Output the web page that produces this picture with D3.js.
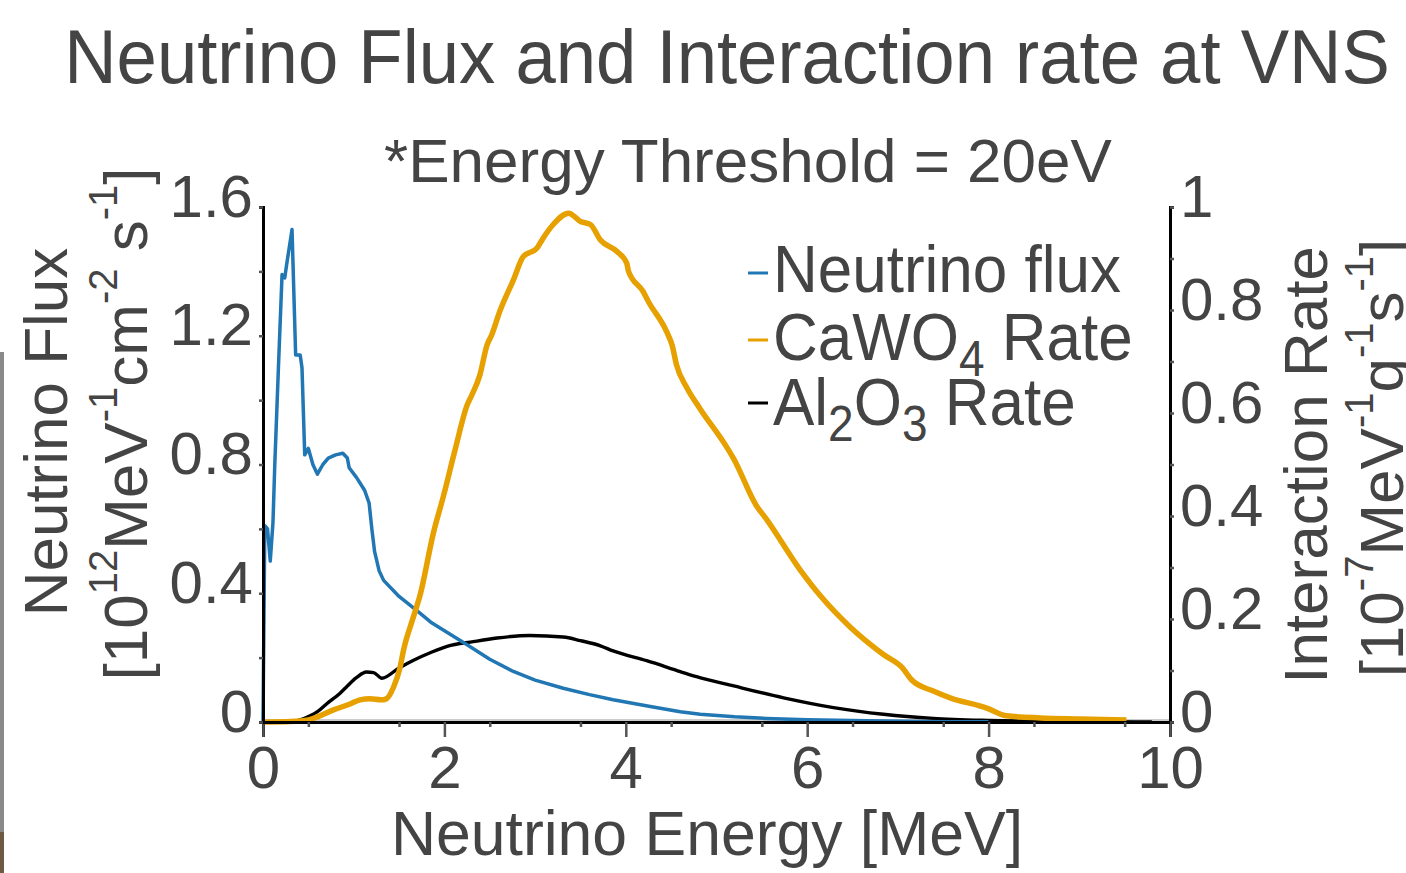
<!DOCTYPE html>
<html>
<head>
<meta charset="utf-8">
<script src="https://cdn.jsdelivr.net/npm/d3@7"></script>
<style>
    body { margin: 0; background: #fff; }
    svg { display: block; }
    text { font-family: "Liberation Sans", Arial, Helvetica, sans-serif; fill: #444; }
</style>
</head>
<body>
<svg width="1406" height="873"></svg>
<script>
// Neutrino flux [1e12 MeV^-1 cm^-2 s^-1] vs energy [MeV]
const fluxE = [0, 0.02, 0.05, 0.08, 0.11, 0.13, 0.17, 0.21, 0.24, 0.26, 0.32, 0.36, 0.41, 0.43, 0.46, 0.50, 0.55, 0.60, 0.66, 0.72, 0.80, 0.88, 0.93, 0.95, 1.03, 1.12, 1.17, 1.20, 1.23, 1.28, 1.33, 1.50, 1.70, 1.85, 2.05, 2.25, 2.50, 2.76, 3.00, 3.31, 3.60, 3.86, 4.27, 4.60, 4.82, 5.20, 5.55, 6.00, 6.66, 7.50, 8.00];
const fluxV = [0, 0.61, 0.60, 0.50, 0.62, 0.80, 1.10, 1.39, 1.38, 1.42, 1.53, 1.14, 1.14, 1.10, 0.83, 0.85, 0.80, 0.77, 0.80, 0.82, 0.83, 0.835, 0.82, 0.79, 0.76, 0.72, 0.68, 0.60, 0.53, 0.47, 0.44, 0.39, 0.345, 0.31, 0.275, 0.24, 0.195, 0.157, 0.13, 0.105, 0.085, 0.069, 0.048, 0.032, 0.024, 0.016, 0.011, 0.007, 0.004, 0.001, 0.0005];

// CaWO4 interaction rate [1e-7 MeV^-1 g^-1 s^-1]
const cawoE = [0, 0.3, 0.5, 0.6, 0.77, 0.96, 1.07, 1.18, 1.30, 1.36, 1.44, 1.51, 1.55, 1.66, 1.73, 1.88, 1.99, 2.12, 2.25, 2.30, 2.39, 2.47, 2.52, 2.61, 2.76, 2.87, 3.02, 3.09, 3.20, 3.37, 3.50, 3.61, 3.72, 3.90, 4.01, 4.03, 4.19, 4.25, 4.45, 4.51, 4.56, 4.67, 4.82, 5.09, 5.19, 5.44, 5.55, 5.92, 6.15, 6.47, 6.84, 7.05, 7.15, 7.39, 7.59, 7.91, 7.98, 8.20, 8.57, 9.00, 9.52];
const cawoV = [0, 0.001, 0.004, 0.01, 0.023, 0.035, 0.043, 0.045, 0.043, 0.045, 0.068, 0.105, 0.14, 0.205, 0.245, 0.368, 0.439, 0.530, 0.615, 0.634, 0.673, 0.732, 0.751, 0.797, 0.858, 0.904, 0.920, 0.940, 0.966, 0.988, 0.972, 0.966, 0.936, 0.914, 0.891, 0.875, 0.836, 0.816, 0.758, 0.732, 0.693, 0.650, 0.608, 0.540, 0.511, 0.420, 0.394, 0.296, 0.244, 0.185, 0.131, 0.105, 0.082, 0.060, 0.046, 0.031, 0.027, 0.012, 0.008, 0.006, 0.004];

// Al2O3 interaction rate
const alE = [0, 0.3, 0.52, 0.6, 0.70, 0.85, 0.92, 1.03, 1.14, 1.22, 1.31, 1.50, 1.66, 1.85, 2.03, 2.32, 2.58, 2.94, 3.31, 3.50, 3.72, 3.86, 4.23, 4.60, 4.78, 5.19, 5.74, 6.29, 6.84, 7.39, 8.00, 8.60, 9.80];
const alV = [0, 0.0005, 0.012, 0.02, 0.035, 0.056, 0.068, 0.086, 0.097, 0.096, 0.085, 0.105, 0.12, 0.135, 0.147, 0.156, 0.163, 0.168, 0.165, 0.158, 0.148, 0.138, 0.119, 0.098, 0.088, 0.070, 0.047, 0.028, 0.015, 0.007, 0.003, 0.001, 0];

const xTicks = [0, 2, 4, 6, 8, 10];
const yLeftTicks = [0, 0.4, 0.8, 1.2, 1.6];
const yRightTicks = [0, 0.2, 0.4, 0.6, 0.8, 1];

function drawChart() {
    const svg = d3.select('svg');
    const plot = { left: 263, right: 1170, top: 207, bottom: 722 };
    const blue = '#2176b4', orange = '#e6a000';

    const xScale = d3.scaleLinear().domain([0, 10]).range([plot.left, plot.right]);
    const yLeft = d3.scaleLinear().domain([0, 1.6]).range([plot.bottom, plot.top]);
    const yRight = d3.scaleLinear().domain([0, 1]).range([plot.bottom, plot.top]);

    // faint zero line
    svg.append('line')
        .attr('x1', plot.left).attr('x2', plot.right)
        .attr('y1', plot.bottom - 2).attr('y2', plot.bottom - 2)
        .attr('stroke', '#bbb').attr('stroke-width', 1.5);

    // Curves
    const flux = fluxE.map((e, i) => [e, fluxV[i]]);
    const cawo = cawoE.map((e, i) => [e, cawoV[i]]);
    const al = alE.map((e, i) => [e, alV[i]]);

    svg.append('path')
        .datum(al)
        .attr('fill', 'none').attr('stroke', '#000').attr('stroke-width', 3.4)
        .attr('stroke-linejoin', 'round')
        .attr('d', d3.line().x(d => xScale(d[0])).y(d => yRight(d[1])).curve(d3.curveMonotoneX));
    svg.append('path')
        .datum(flux)
        .attr('fill', 'none').attr('stroke', blue).attr('stroke-width', 3.5)
        .attr('stroke-linejoin', 'round')
        .attr('d', d3.line().x(d => xScale(d[0])).y(d => yLeft(d[1])));
    svg.append('path')
        .datum(cawo)
        .attr('fill', 'none').attr('stroke', orange).attr('stroke-width', 5.5)
        .attr('stroke-linejoin', 'round')
        .attr('d', d3.line().x(d => xScale(d[0])).y(d => yRight(d[1])).curve(d3.curveMonotoneX));

    // Axes
    const tickFont = 60;
    const xAxis = d3.axisBottom(xScale).tickValues(xTicks).tickSize(15).tickPadding(8).tickFormat(d3.format('d'));
    const gx = svg.append('g').attr('transform', `translate(0, ${plot.bottom})`).call(xAxis);
    const xMinor = d3.axisBottom(xScale).tickValues(d3.range(0.5, 10, 1)).tickSize(5).tickFormat('');
    svg.append('g').attr('transform', `translate(0, ${plot.bottom})`).call(xMinor)
        .call(g => g.select('.domain').remove());

    const yAxisL = d3.axisLeft(yLeft).tickValues(yLeftTicks).tickSize(4).tickPadding(6)
        .tickFormat(d => d === 0 ? '0' : d3.format('.1f')(d));
    const gyl = svg.append('g').attr('transform', `translate(${plot.left}, 0)`).call(yAxisL);
    const yMinorL = d3.axisLeft(yLeft).tickValues([0.2, 0.6, 1.0, 1.4]).tickSize(4).tickFormat('');
    svg.append('g').attr('transform', `translate(${plot.left}, 0)`).call(yMinorL)
        .call(g => g.select('.domain').remove());

    const yAxisR = d3.axisRight(yRight).tickValues(yRightTicks).tickSize(4).tickPadding(6)
        .tickFormat(d => d === 0 || d === 1 ? String(d) : d3.format('.1f')(d));
    const gyr = svg.append('g').attr('transform', `translate(${plot.right}, 0)`).call(yAxisR);
    const yMinorR = d3.axisRight(yRight).tickValues([0.1, 0.3, 0.5, 0.7, 0.9]).tickSize(4).tickFormat('');
    svg.append('g').attr('transform', `translate(${plot.right}, 0)`).call(yMinorR)
        .call(g => g.select('.domain').remove());

    svg.selectAll('.domain').attr('stroke', '#000').attr('stroke-width', 3);
    svg.selectAll('.tick line').attr('stroke', '#555').attr('stroke-width', 2.5);
    svg.selectAll('.tick text')
        .style('font-size', tickFont + 'px')
        .style('font-family', '"Liberation Sans", Arial, sans-serif')
        .attr('fill', '#444');
    gyl.selectAll('.tick text').attr('dy', '0.15em');
    gyr.selectAll('.tick text').attr('dy', '0.15em');
    gx.selectAll('.tick text').attr('dy', '0.71em');

    // Titles
    svg.append('text')
        .text('Neutrino Flux and Interaction rate at VNS')
        .attr('transform', 'translate(727, 83) scale(1, 1.06)')
        .style('text-anchor', 'middle')
        .style('font-size', '72.5px');
    svg.append('text')
        .text('*Energy Threshold = 20eV')
        .attr('x', 748).attr('y', 182)
        .style('text-anchor', 'middle')
        .style('font-size', '62px');

    // Axis labels
    svg.append('text')
        .text('Neutrino Energy [MeV]')
        .attr('x', 707).attr('y', 855)
        .style('text-anchor', 'middle')
        .style('font-size', '62.5px');

    // text with raised pieces, sizes in px so the baseline comes back exactly
    const supSize = 40, supRise = 30;
    const sup = (t, parts) => {
        let raised = false;
        parts.forEach(p => {
            const span = t.append('tspan').text(p[0]);
            if (p[1] && !raised) { span.attr('dy', -supRise).style('font-size', supSize + 'px'); raised = true; }
            else if (p[1]) { span.style('font-size', supSize + 'px'); }
            else if (raised) { span.attr('dy', supRise); raised = false; }
        });
    };

    svg.append('text')
        .text('Neutrino Flux')
        .attr('transform', 'translate(67, 432) rotate(-90)')
        .style('text-anchor', 'middle')
        .style('font-size', '62px');
    const l2 = svg.append('text')
        .attr('transform', 'translate(147, 424) rotate(-90)')
        .style('text-anchor', 'middle')
        .style('font-size', '62px');
    sup(l2, [['[10'], ['12', 1], ['MeV'], ['-1', 1], ['cm'], ['-2', 1], [' s'], ['-1', 1], [']']]);

    svg.append('text')
        .text('Interaction Rate')
        .attr('transform', 'translate(1327, 465) rotate(-90)')
        .style('text-anchor', 'middle')
        .style('font-size', '62px');
    const r2 = svg.append('text')
        .attr('transform', 'translate(1403, 458) rotate(-90)')
        .style('text-anchor', 'middle')
        .style('font-size', '62px');
    sup(r2, [['[10'], ['-7', 1], ['MeV'], ['-1', 1], ['g'], ['-1', 1], ['s'], ['-1', 1], [']']]);

    // Legend
    const subSize = 46, subDrop = 15;
    const legend = [
        { color: blue, parts: [['Neutrino flux']] },
        { color: orange, parts: [['CaWO'], ['4', 1], [' Rate']] },
        { color: '#000', parts: [['Al'], ['2', 1], ['O'], ['3', 1], [' Rate']] }
    ];
    const legendBase = [292, 360, 425];
    const legendDash = [273, 340, 403];
    legend.forEach((item, i) => {
        const y = legendBase[i];
        svg.append('line')
            .attr('x1', 748).attr('x2', 768)
            .attr('y1', legendDash[i]).attr('y2', legendDash[i])
            .attr('stroke', item.color).attr('stroke-width', 3);
        const t = svg.append('text')
            .attr('transform', `translate(773, ${y}) scale(1, 1.07)`)
            .style('font-size', '62px');
        let dropped = false;
        item.parts.forEach(p => {
            const span = t.append('tspan').text(p[0]);
            if (p[1]) { span.attr('dy', subDrop).style('font-size', subSize + 'px'); dropped = true; }
            else if (dropped) { span.attr('dy', -subDrop); dropped = false; }
        });
    });

    // scanned edge on the far left
    svg.append('rect').attr('x', 0).attr('y', 352).attr('width', 4).attr('height', 480).attr('fill', '#8a8a8a');
    svg.append('rect').attr('x', 0).attr('y', 832).attr('width', 4).attr('height', 41).attr('fill', '#6e5a44');
}

window.addEventListener('load', drawChart);
</script>
</body>
</html>
